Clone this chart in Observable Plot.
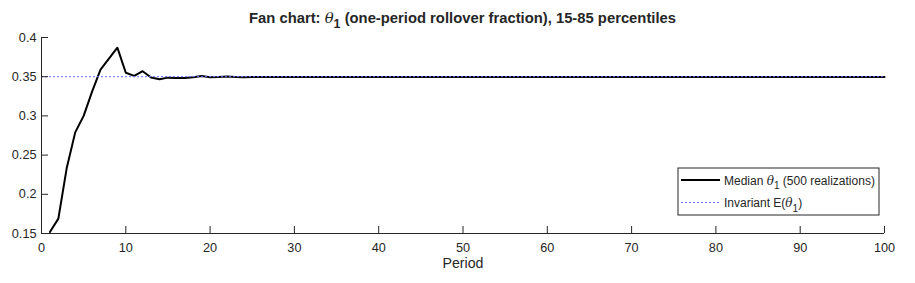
<!DOCTYPE html>
<html><head><meta charset="utf-8">
<script src="https://cdn.jsdelivr.net/npm/d3@7"></script>
<script src="https://cdn.jsdelivr.net/npm/@observablehq/plot@0.6"></script>
<style>body{margin:0;background:#fff} svg{display:block}</style>
</head><body><div id="chart"></div>
<script>
// Median theta_1 across 500 realizations, periods 1..100
const periods = d3.range(1, 101);
const median = [
  0.152, 0.169, 0.234, 0.279, 0.300, 0.331, 0.359, 0.373, 0.387, 0.355,
  0.351, 0.357, 0.349, 0.3468, 0.3488, 0.3484, 0.3483, 0.3492, 0.3508, 0.3494,
  0.3496, 0.3504, 0.3497, 0.3494, 0.3497, 0.3496, 0.3495, 0.3496, 0.3497, 0.3495,
  0.3496, 0.3496, 0.3495, 0.3497, 0.3496, 0.3495, 0.3496, 0.3496, 0.3495, 0.3496,
  0.3496, 0.3495, 0.3496, 0.3497, 0.3496, 0.3495, 0.3496, 0.3496, 0.3495, 0.3496,
  0.3496, 0.3495, 0.3496, 0.3496, 0.3495, 0.3496, 0.3496, 0.3495, 0.3496, 0.3496,
  0.3495, 0.3496, 0.3496, 0.3495, 0.3496, 0.3496, 0.3495, 0.3496, 0.3496, 0.3495,
  0.3496, 0.3496, 0.3495, 0.3496, 0.3496, 0.3495, 0.3496, 0.3496, 0.3495, 0.3496,
  0.3496, 0.3495, 0.3496, 0.3496, 0.3495, 0.3496, 0.3496, 0.3495, 0.3496, 0.3496,
  0.3495, 0.3496, 0.3496, 0.3495, 0.3496, 0.3496, 0.3495, 0.3496, 0.3496, 0.3495
];
const invariant = 0.35;
const xTicks = [0, 10, 20, 30, 40, 50, 60, 70, 80, 90, 100];
const yTicks = [0.15, 0.2, 0.25, 0.3, 0.35, 0.4];
const titleParts = ["Fan chart: ", "θ", "1", " (one-period rollover fraction), 15-85 percentiles"];
const legendLabels = [["Median ", "θ", "1", " (500 realizations)"], ["Invariant E(", "θ", "1", ")"]];
const xLabel = "Period";

const data = periods.map((p, i) => ({period: p, value: median[i]}));

const W = 915, H = 283, mL = 41, mR = 31, mT = 37, mB = 50;
const axisColor = "#262626";
const dotColor = "#6b6bff";

const chart = Plot.plot({
  width: W, height: H,
  marginLeft: mL, marginRight: mR, marginTop: mT, marginBottom: mB,
  style: {fontFamily: "'Liberation Sans', Arial, Helvetica, sans-serif", fontSize: "12.7px", color: axisColor, background: "white"},
  x: {domain: [0, 100], label: null},
  y: {domain: [0.15, 0.4], label: null},
  marks: [
    Plot.line(data, {x: "period", y: "value", stroke: "black", strokeWidth: 2}),
    Plot.ruleY([invariant], {stroke: dotColor, strokeWidth: 1, strokeDasharray: "2,2"}),
    Plot.ruleX([0], {stroke: axisColor}),
    Plot.ruleY([0.15], {stroke: axisColor}),
    Plot.tickY(yTicks, {y: d => d, stroke: axisColor, insetRight: W - mL - mR - 7}),
    Plot.tickX(xTicks, {x: d => d, stroke: axisColor, insetTop: H - mT - mB - 7}),
    Plot.axisY({ticks: yTicks, tickSize: 0, tickPadding: 5, tickFormat: d => String(d), fill: axisColor}),
    Plot.axisX({ticks: xTicks, tickSize: 0, tickPadding: 9, tickFormat: d => String(d), fill: axisColor}),
    Plot.text([xLabel], {frameAnchor: "bottom", dy: 34, fontSize: 14.2, fill: axisColor})
  ]
});

const svg = d3.select(chart);
const ff = "'Liberation Sans', Arial, Helvetica, sans-serif";

function richText(g, parts, x, y, size, subSize, shift, weight, anchor) {
  const t = g.append("text").attr("x", x).attr("y", y).attr("font-size", size)
    .attr("font-family", ff).attr("font-weight", weight).attr("fill", axisColor)
    .attr("text-anchor", anchor);
  t.append("tspan").text(parts[0]);
  t.append("tspan").attr("font-style", "italic").attr("font-family", "'DejaVu Serif', serif").attr("font-weight", "normal").text(parts[1]);
  t.append("tspan").attr("font-size", subSize).attr("dy", shift).text(parts[2]);
  t.append("tspan").attr("dy", -shift).text(parts[3]);
  return t;
}

richText(svg, titleParts, mL + (W - mL - mR) / 2, 22.7, 14.8, 12.5, 5.5, "bold", "middle");

const lg = svg.append("g");
lg.append("rect").attr("x", 678).attr("y", 168).attr("width", 201).attr("height", 47)
  .attr("fill", "white").attr("stroke", axisColor).attr("stroke-width", 1);
lg.append("line").attr("x1", 681).attr("x2", 720).attr("y1", 180).attr("y2", 180)
  .attr("stroke", "black").attr("stroke-width", 2);
lg.append("line").attr("x1", 681).attr("x2", 720).attr("y1", 202.5).attr("y2", 202.5)
  .attr("stroke", dotColor).attr("stroke-width", 1).attr("stroke-dasharray", "2,2");
richText(lg, legendLabels[0], 724, 184.5, 12, 10, 4.5, "normal", "start");
richText(lg, legendLabels[1], 724, 207, 12, 10, 4.5, "normal", "start");

document.getElementById("chart").appendChild(chart);
</script>
</body></html>
